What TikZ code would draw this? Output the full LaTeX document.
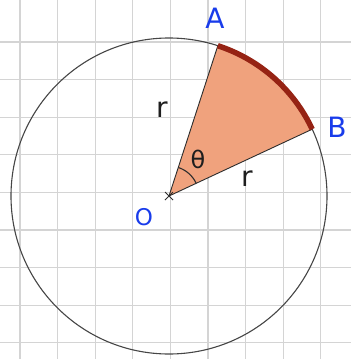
\documentclass[tikz,border=0pt]{standalone}
\usepackage{fontspec}
\setmainfont{DejaVu Sans}
\usetikzlibrary{calc}
\definecolor{gridc}{RGB}{212,212,212}
\definecolor{lblblue}{RGB}{25,60,235}
\definecolor{lblblack}{RGB}{30,30,30}
\definecolor{linec}{RGB}{45,45,45}
\definecolor{circc}{RGB}{70,70,70}
\definecolor{sectc}{RGB}{240,162,125}
\definecolor{arcc}{RGB}{150,35,20}
\begin{document}
\begin{tikzpicture}[x=1pt,y=-1pt,
  gridline/.style={draw=gridc,line width=1.2pt},
  blue lbl/.style={text=lblblue,font=\fontsize{28}{28}\selectfont},
  black lbl/.style={text=lblblack,font=\fontsize{28}{28}\selectfont},
  radius line/.style={draw=linec,line width=0.9pt}]
\useasboundingbox (0,0) rectangle (351,359);
\fill[white] (0,0) rectangle (351,359);
% grid
\foreach \k in {0,...,8} {\draw[gridline] ({20+37.6*\k},0) -- ({20+37.6*\k},359);}
\foreach \k in {0,...,8} {\draw[gridline] (0,{42+37.6*\k}) -- (351,{42+37.6*\k});}
% circle
\coordinate (O) at (169,196);
\draw[draw=circc,line width=1.1pt] (O) circle[radius=158];
% sector
\fill[fill=sectc] (O) -- ++(72:158 and -158) coordinate (A) arc[start angle=72,end angle=25,x radius=158,y radius=-158] coordinate (B) -- cycle;
\draw[radius line] (O) -- (A);
\draw[radius line] (O) -- (B);
\draw[draw=arcc,line width=5.5pt] (A) arc[start angle=72,end angle=25,x radius=158,y radius=-158];
% angle arc
\draw[radius line,line width=1.1pt] ($(O)+(72:30 and -30)$) arc[start angle=72,end angle=25,x radius=30,y radius=-30];
% cross at O
\draw[radius line,line width=1pt] ($(O)+(-4,-4)$) -- ($(O)+(4,4)$) ($(O)+(-4,4)$) -- ($(O)+(4,-4)$);
% labels
\node[blue lbl] (lA) at (215,18) {A};
\node[blue lbl] (lB) at (337,127) {B};
\node[blue lbl,font=\fontsize{23}{23}\selectfont] (lO) at (144,217) {O};
\node[black lbl] (r1) at (162,110) {r};
\node[black lbl] (r2) at (247,179) {r};
\node[black lbl,font=\fontsize{24}{24}\selectfont] (th) at (198,159) {θ};
\end{tikzpicture}
\end{document}
